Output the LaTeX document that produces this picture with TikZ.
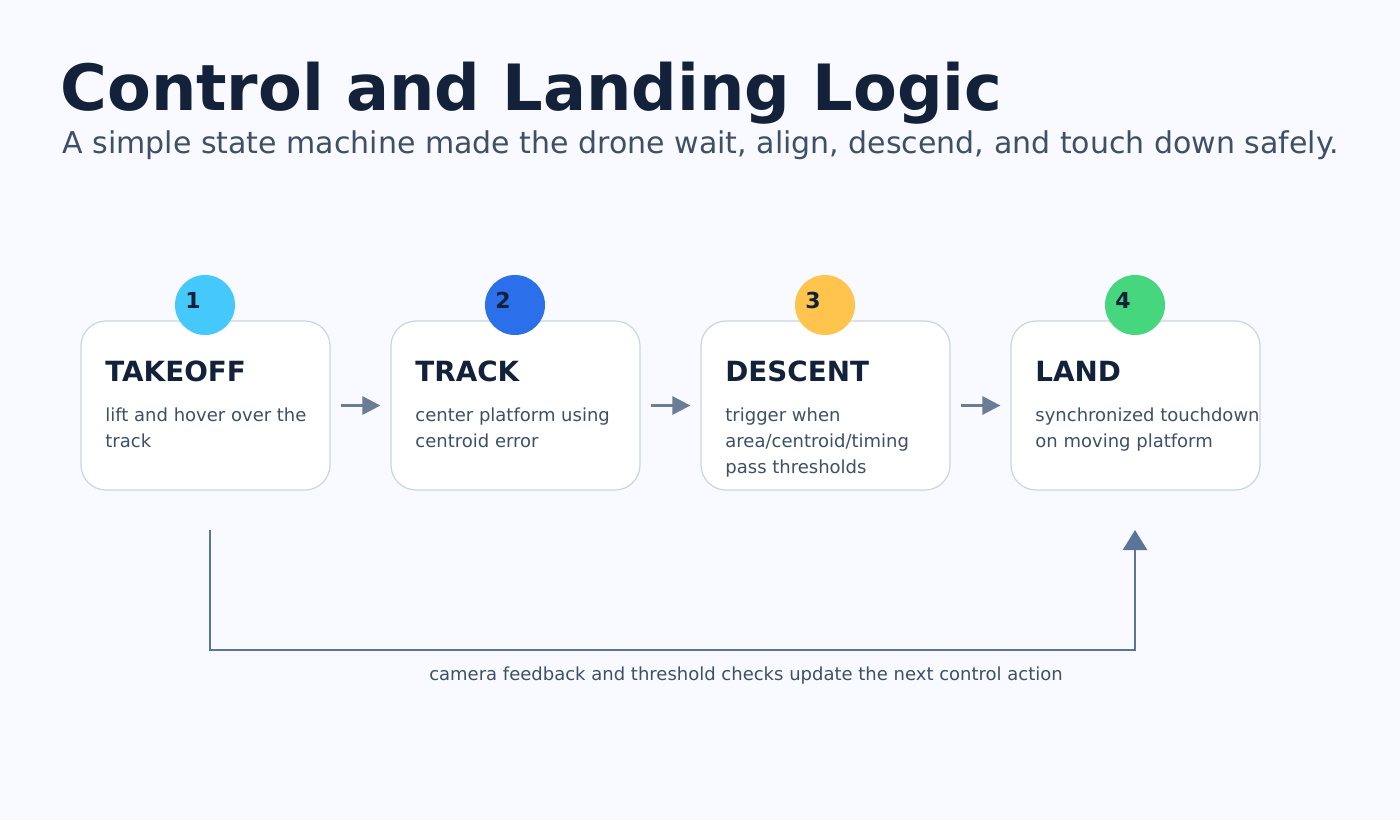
\documentclass[tikz,border=0pt]{standalone}
\usepackage{fontspec}
\setmainfont{DejaVu Sans}
\usetikzlibrary{arrows.meta}
\definecolor{bgc}{HTML}{F8FAFF}
\definecolor{ink}{HTML}{13223A}
\definecolor{subc}{HTML}{3F4F66}
\definecolor{edgec}{HTML}{CBD5E1}
\definecolor{flowc}{HTML}{6B7D96}
\definecolor{loopc}{HTML}{5A7599}
\definecolor{cA}{HTML}{45C8FA}
\definecolor{cB}{HTML}{2B6FEB}
\definecolor{cC}{HTML}{FFC44D}
\definecolor{cD}{HTML}{45D67E}
\tikzset{
  box/.style={shape=rectangle, rounded corners=12.5pt, draw=edgec, fill=white,
    minimum width=124.5pt, minimum height=84.5pt, line width=0.6pt},
  badge/.style={shape=circle, minimum size=30pt, inner sep=0pt},
  num/.style={font=\bfseries\fontsize{11}{13}\selectfont, text=ink},
  head/.style={anchor=base west, inner sep=0pt, font=\bfseries\fontsize{13.9}{16}\selectfont, text=ink},
  body/.style={anchor=north west, align=left, inner sep=0pt,
    font=\fontsize{9}{13}\selectfont, text=subc},
  flow/.style={-{Triangle[length=9pt,width=9pt]}, draw=flowc, line width=1.5pt},
}
\begin{document}
\begin{tikzpicture}[x=0.5pt, y=-0.5pt]
\fill[bgc] (0,0) rectangle (1400,820);
\useasboundingbox (0,0) rectangle (1400,820);

% heading
\node[anchor=base west, inner sep=0pt, text=ink, font=\bfseries\fontsize{31.9}{38}\selectfont]
  at (60,110) (title) {Control and Landing Logic};
\node[anchor=base west, inner sep=0pt, text=subc, font=\fontsize{15}{18}\selectfont]
  at (62,153) (sub) {A simple state machine made the drone wait, align, descend, and touch down safely.};

% states
\node[box] at (205.5,405.5) (b1) {};
\node[box] at (515.5,405.5) (b2) {};
\node[box] at (825.5,405.5) (b3) {};
\node[box] at (1135.5,405.5) (b4) {};

\node[badge, fill=cA] at (205,305) (n1) {};
\node[badge, fill=cB] at (515,305) (n2) {};
\node[badge, fill=cC] at (825,305) (n3) {};
\node[badge, fill=cD] at (1135,305) (n4) {};
\node[num] at (193,300) (t1) {1};
\node[num] at (503,300) (t2) {2};
\node[num] at (813,300) (t3) {3};
\node[num] at (1123,300) (t4) {4};

\node[head] at (105,381) (h1) {TAKEOFF};
\node[head] at (415,381) (h2) {TRACK};
\node[head] at (725,381) (h3) {DESCENT};
\node[head] at (1035,381) (h4) {LAND};

\node[body] at (105,407) (d1) {lift and hover over the\\track};
\node[body] at (415,407) (d2) {center platform using\\centroid error};
\node[body] at (725,407) (d3) {trigger when\\area/centroid/timing\\pass thresholds};
\node[body] at (1035,407) (d4) {synchronized touchdown\\on moving platform};

\draw[flow] ([xshift=5pt]b1.east) -- ([xshift=-5pt]b2.west);
\draw[flow] ([xshift=5pt]b2.east) -- ([xshift=-5pt]b3.west);
\draw[flow] ([xshift=5pt]b3.east) -- ([xshift=-5pt]b4.west);

% feedback loop
\coordinate (l0) at (210,530);
\coordinate (l1) at (210,650);
\coordinate (l2) at (1135,650);
\coordinate (l3) at (1135,530);
\draw[loopc, line width=1.3pt, -{Triangle[length=10pt,width=12pt]}]
  (l0) -- (l1) -- (l2) -- (l3);
\node[text=subc, font=\fontsize{9}{11}\selectfont] at (746,676) (cap)
  {camera feedback and threshold checks update the next control action};
\end{tikzpicture}
\end{document}
